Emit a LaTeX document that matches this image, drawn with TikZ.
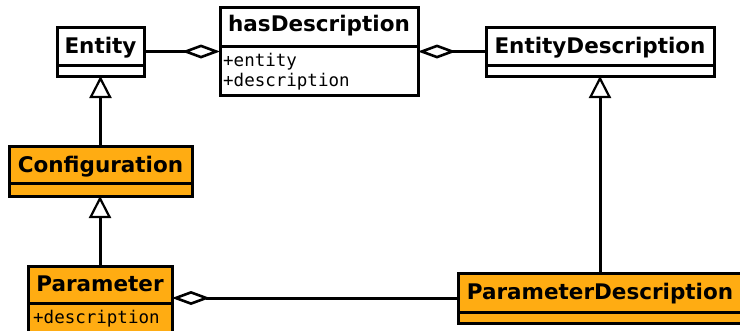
\documentclass[tikz,border=0pt]{standalone}
\usepackage{fontspec}
\setmainfont{DejaVu Sans}
\newfontfamily\attrfont{DejaVu Sans Mono}
\usetikzlibrary{arrows.meta}
\definecolor{classorange}{RGB}{255,172,18}
\tikzset{
  umlclass/.style={draw, line width=3pt, fill=white, inner sep=0pt, outer sep=0pt},
  hot/.style={fill=classorange},
  classname/.style={font=\bfseries\fontsize{21.5}{24}\selectfont, inner sep=0pt,
                    text height=15.7pt, text depth=5pt},
  attr/.style={font=\attrfont\fontsize{17.5}{20}\selectfont, inner sep=0pt, anchor=west,
               text height=12.8pt, text depth=4pt},
  divider/.style={line width=3pt},
  assoc/.style={line width=3pt, -{Diamond[open, length=38pt, width=14pt, line width=2.6pt]}},
  inherit/.style={line width=3pt, -{Triangle[open, length=22pt, width=22pt, line width=2.2pt]}},
}
\begin{document}
\begin{tikzpicture}[x=1pt, y=-1pt]
\useasboundingbox (0,0) rectangle (740,330);
\clip (0,0) rectangle (740,330);

% Entity
\node[umlclass, minimum width=87pt, minimum height=49pt] (entity) at (100.5,51.5) {};
\node[classname] (entityname) at (100.5,48) {Entity};
\draw[divider] ([yshift=-13.5pt]entity.west) -- ([yshift=-13.5pt]entity.east);

% hasDescription
\node[umlclass, minimum width=198pt, minimum height=88pt] (hasdesc) at (319,51) {};
\node[classname] (hasdescname) at (319,26.5) {hasDescription};
\draw[divider] ([yshift=5pt]hasdesc.west) -- ([yshift=5pt]hasdesc.east);
\node[attr] (hasdescentity) at (223,62.5) {+entity};
\node[attr] (hasdescdesc) at (223,82.5) {+description};

% EntityDescription
\node[umlclass, minimum width=228pt, minimum height=49pt] (entdesc) at (600,51.5) {};
\node[classname] (entdescname) at (600,48) {EntityDescription};
\draw[divider] ([yshift=-13.5pt]entdesc.west) -- ([yshift=-13.5pt]entdesc.east);

% Configuration
\node[umlclass, hot, minimum width=183pt, minimum height=50pt] (config) at (100.5,171) {};
\node[classname] (configname) at (100.5,167.3) {Configuration};
\draw[divider] ([yshift=-12pt]config.west) -- ([yshift=-12pt]config.east);

% Parameter
\node[umlclass, hot, minimum width=144pt, minimum height=67pt] (param) at (100,299.5) {};
\node[classname] (paramname) at (100,286.3) {Parameter};
\draw[divider] ([yshift=-3.5pt]param.west) -- ([yshift=-3.5pt]param.east);
\node[attr] (paramdesc) at (33,318.6) {+description};

% ParameterDescription
\node[umlclass, hot, minimum width=284pt, minimum height=50pt] (pdesc) at (600,298) {};
\node[classname] (pdescname) at (600,294.5) {ParameterDescription};
\draw[divider] ([yshift=-14pt]pdesc.west) -- ([yshift=-14pt]pdesc.east);

% Associations
\draw[assoc] (entity.east) -- (entity.east -| hasdesc.west);
\draw[assoc] (entdesc.west) -- (entdesc.west -| hasdesc.east);
\draw[assoc] (pdesc.west) -- (pdesc.west -| param.east);

% Generalizations
\draw[inherit] (config.north) -- (config.north |- entity.south);
\draw[inherit] (param.north) -- (param.north |- config.south);
\draw[inherit] (pdesc.north) -- (entdesc.south);
\end{tikzpicture}
\end{document}
